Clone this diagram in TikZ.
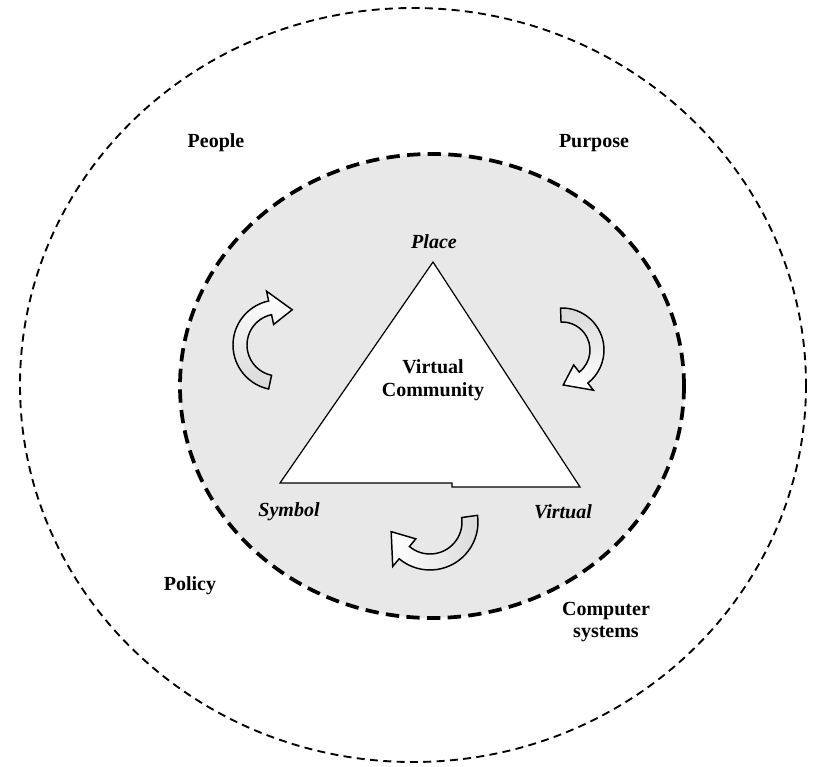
\documentclass[tikz,border=0pt]{standalone}
\usepackage{fontspec}
\setmainfont{Liberation Serif}
\usepackage{xcolor}
\usepackage{tikz}
\usetikzlibrary{shapes.geometric,positioning,calc}
\definecolor{vcshade}{HTML}{E8E8E8}
\definecolor{vcturn}{HTML}{D9D9D9}
\tikzset{
  outring/.style={draw=black, line width=1.4pt, dash pattern=on 6pt off 4pt},
  inring/.style={draw=black, fill=vcshade, line width=2.8pt, dash pattern=on 10pt off 5.5pt},
  tri/.style={draw=black, fill=white, line width=0.9pt, line join=miter},
  lbl/.style={font=\fontsize{15}{17}\selectfont\bfseries, align=center, inner sep=0pt},
  vlbl/.style={font=\fontsize{15}{17}\selectfont\bfseries\itshape, inner sep=0pt},
  turn/.style={draw=black, line width=1.1pt, line join=miter},
}
% hollow curved arrow: style, centre, radius, half band, half head, from, to, tip angle
\newcommand{\bendarrow}[8]{%
  \begin{scope}[shift={#2}]
    \path[#1] ({#6}:{#3+#4}) arc[start angle={#6}, end angle={#7}, radius={#3+#4}]
      -- ({#7}:{#3+#5}) -- ({#8}:{#3}) -- ({#7}:{#3-#5}) -- ({#7}:{#3-#4})
      arc[start angle={#7}, end angle={#6}, radius={#3-#4}] -- cycle;
  \end{scope}}

\begin{document}
\begin{tikzpicture}[x=0.75pt,y=-0.75pt]
\useasboundingbox (0,0) rectangle (818,767);
\fill[white] (0,0) rectangle (818,767);

\draw[outring] (413,385) ellipse [x radius=393, y radius=377];
\draw[inring] (432,386) ellipse [x radius=252, y radius=232];

\coordinate (apex) at (433,262);
\coordinate (sym) at (280,483);
\coordinate (vir) at (580,487);
\draw[tri] (apex) -- (vir) -- (452,487) -- (452,483) -- (sym) -- cycle;

\node[lbl] (core) at (433,380) {Virtual\\Community};
\node[vlbl] (place) at (434,242) {Place};
\node[vlbl] (symbol) at (289,512) {Symbol};
\node[vlbl] (virtual) at (563,512) {Virtual};

\node[lbl] (people) at (216,143) {People};
\node[lbl] (purpose) at (594,143) {Purpose};
\node[lbl] (policy) at (190,586) {Policy};
\node[lbl] (computer) at (606,622) {Computer\\systems};

\bendarrow{turn, top color=white, bottom color=vcturn}{(278,345)}{38}{7}{17}{102}{258}{292}
\bendarrow{turn, top color=vcturn, bottom color=white}{(562,350)}{35}{7}{16}{268}{412}{448}
\bendarrow{turn, left color=white, right color=vcturn}{(430,522)}{40}{8}{18}{-8}{130}{166}
\end{tikzpicture}
\end{document}
